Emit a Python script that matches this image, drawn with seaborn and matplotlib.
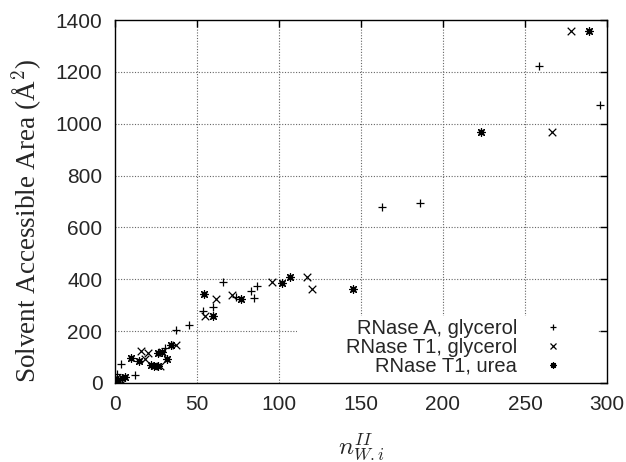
import matplotlib
matplotlib.use("Agg")
import matplotlib.pyplot as plt
from matplotlib.patches import Rectangle
import seaborn as sns
import pandas as pd

# RNase A, glycerol (+)
a_x = [0.8, 1.4, 3.7, 12.2, 30.5, 37, 45, 53.5, 60, 66, 73.8, 83, 84.8, 86.4, 162.6, 185.8, 258.5, 296]
a_y = [10, 33, 75, 30, 135, 204, 224, 276, 295, 391, 333, 356, 329, 374, 679, 696, 1223, 1073]
# RNase T1, glycerol (x)
t1g_x = [1, 3, 15.7, 18.5, 20.3, 27.4, 28.6, 37, 55, 61.6, 71.3, 95.5, 117, 120.3, 266.5, 278]
t1g_y = [5, 15, 124, 94, 116, 64, 120, 146, 257, 324, 340, 388, 408, 364, 969, 1359]
# RNase T1, urea (asterisk)
t1u_x = [0.5, 2, 4, 6, 10, 14.5, 22, 24, 26, 26.4, 28.5, 31.5, 34, 54, 60, 76.8, 102, 106.7, 145.3, 223, 288.8]
t1u_y = [8, 12, 18, 22, 98, 85, 68, 66, 66, 116, 121, 93, 145, 342, 257, 325, 387, 409, 363, 969, 1359]

labels = ["RNase A, glycerol", "RNase T1, glycerol", "RNase T1, urea"]
x_ticks = [0, 50, 100, 150, 200, 250, 300]
y_ticks = [0, 200, 400, 600, 800, 1000, 1200, 1400]

sns.set_style("white")
plt.rcParams["font.family"] = ["Liberation Sans", "DejaVu Sans"]
plt.rcParams["mathtext.fontset"] = "cm"

fig = plt.figure(figsize=(6.26, 4.62), dpi=100)
ax = fig.add_axes([0.1837, 0.171, 0.7859, 0.7857])

series = [(a_x, a_y, "+"), (t1g_x, t1g_y, "x"), (t1u_x, t1u_y, (8, 2, 0))]
handles = []
for (xs, ys, m), lab in zip(series, labels):
    df = pd.DataFrame({"x": xs, "y": ys})
    sns.scatterplot(data=df, x="x", y="y", marker=m, color="black", s=30,
                    linewidth=0.9, ax=ax, zorder=3)
    h, = ax.plot([], [], linestyle="none", marker=m, color="black",
                 markersize=4.5, markeredgewidth=0.9)
    handles.append(h)

ax.set_xlim(0, 300)
ax.set_ylim(0, 1400)
ax.set_xticks(x_ticks)
ax.set_yticks(y_ticks)

for xv in x_ticks[1:-1]:
    ax.axvline(xv, color="#666666", linestyle=(0, (1, 1.5)), linewidth=0.8, zorder=0.5)
for yv in y_ticks[1:-1]:
    ax.axhline(yv, color="#666666", linestyle=(0, (1, 1.5)), linewidth=0.8, zorder=0.5)

# blank key area (grid is not drawn behind the key)
ax.add_patch(Rectangle((0.37, 0.0), 0.612, 0.185, transform=ax.transAxes,
                       facecolor="white", edgecolor="none", zorder=0.8))

ax.tick_params(axis="both", which="both", direction="in", length=5, width=1,
               top=True, right=True, labelsize=15, pad=9, color="black")
for sp in ax.spines.values():
    sp.set_visible(True)
    sp.set_color("black")
    sp.set_linewidth(1)

ax.set_xlabel(r"$n_{W.i}^{II}$", fontsize=18, labelpad=12)
ax.set_ylabel("Solvent Accessible Area (Å$^2$)", fontsize=19.5,
              family=["Liberation Serif", "DejaVu Serif"])
ax.yaxis.set_label_coords(-0.143, 0.446)

leg = ax.legend(handles, labels, loc="lower right", bbox_to_anchor=(0.936, 0.003),
                markerfirst=False, frameon=False, fontsize=14.5, borderaxespad=0,
                handlelength=1.6, handletextpad=1.0, labelspacing=0.0,
                borderpad=0.3)
for t in leg.get_texts():
    t.set_ha("right")
leg._legend_box.align = "right"
leg.set_zorder(1)

fig.savefig("out.png", dpi=100)
